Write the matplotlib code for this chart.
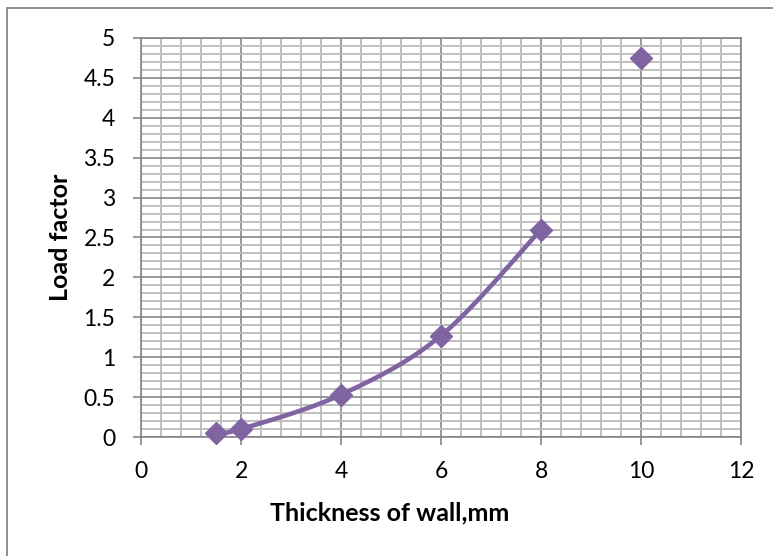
import numpy as np
import matplotlib
matplotlib.use("Agg")
import matplotlib.pyplot as plt
from matplotlib.patches import Rectangle

# Data
thickness = [1.5, 2, 4, 6, 8]
load_factor = [0.05, 0.1, 0.53, 1.27, 2.6]
extra_thickness = [10]
extra_load = [4.75]

x_ticks = [0, 2, 4, 6, 8, 10, 12]
y_ticks = [0, 0.5, 1, 1.5, 2, 2.5, 3, 3.5, 4, 4.5, 5]
y_tick_labels = ["0", "0.5", "1", "1.5", "2", "2.5", "3", "3.5", "4", "4.5", "5"]

PURPLE = "#8064A2"
FONT = ["Lato", "DejaVu Sans"]


def catmull_rom(xs, ys, n=40):
    xs = np.asarray(xs, float)
    ys = np.asarray(ys, float)
    P = np.column_stack([xs, ys])
    P = np.vstack([P[0], P, P[-1]])
    out = []
    for i in range(1, len(P) - 2):
        p0, p1, p2, p3 = P[i - 1], P[i], P[i + 1], P[i + 2]
        t = np.linspace(0, 1, n)[:, None]
        c1 = p1 + (p2 - p0) / 6.0
        c2 = p2 - (p3 - p1) / 6.0
        seg = ((1 - t) ** 3) * p1 + 3 * ((1 - t) ** 2) * t * c1 + 3 * (1 - t) * t ** 2 * c2 + t ** 3 * p2
        out.append(seg)
    out = np.vstack(out)
    return out[:, 0], out[:, 1]


fig = plt.figure(figsize=(7.73, 5.56), dpi=100)
fig.patch.set_facecolor("white")

# outer chart frame
fig.patches.append(Rectangle((7.5 / 773, -0.1), 1.2, (548 / 556) + 0.1,
                             transform=fig.transFigure, fill=False,
                             edgecolor="#868686", linewidth=1.3))

ax = fig.add_axes([141 / 773, 119 / 556, 600 / 773, 399 / 556])
ax.set_xlim(0, 12)
ax.set_ylim(0, 5)

ax.set_xticks(x_ticks)
ax.set_yticks(y_ticks)
ax.set_yticklabels(y_tick_labels)
ax.set_xticks(np.arange(0, 12.01, 0.4), minor=True)
ax.set_yticks(np.arange(0, 5.01, 0.1), minor=True)

ax.grid(which="minor", color="#BFBFBF", linewidth=1.4, zorder=0)
ax.grid(which="major", color="#868686", linewidth=1.2, zorder=1)
ax.set_axisbelow(True)

for s in ax.spines.values():
    s.set_color("#868686")
    s.set_linewidth(1.2)

ax.tick_params(which="major", direction="out", length=6, width=1.2, color="#868686",
               labelsize=16.5, pad=12.5)
ax.tick_params(which="minor", length=0)
ax.tick_params(axis="x", pad=11)
for lab in ax.get_xticklabels() + ax.get_yticklabels():
    lab.set_family(FONT)

sx, sy = catmull_rom(thickness, load_factor)
ax.plot(sx, sy, color=PURPLE, linewidth=3.3, zorder=3, solid_capstyle="round")
ax.plot(thickness, load_factor, linestyle="none", marker="D", markersize=11,
        color=PURPLE, zorder=4, clip_on=False)
ax.plot(extra_thickness, extra_load, linestyle="none", marker="D", markersize=11,
        color=PURPLE, zorder=4, clip_on=False)

ax.set_xlabel("Thickness of wall,mm", fontsize=18, fontweight="bold",
              family=FONT)
ax.set_ylabel("Load factor", fontsize=18, fontweight="bold", family=FONT)
# axis titles placed as in the reference (x title centred on the chart area)
ax.xaxis.set_label_coords((390 - 141) / 600, (437 - 513) / 399)
ax.xaxis.label.set_va("center")
ax.yaxis.set_label_coords((61 - 141) / 600, 0.5)
ax.yaxis.label.set_va("center")

fig.savefig("out.png", dpi=100, facecolor="white")
